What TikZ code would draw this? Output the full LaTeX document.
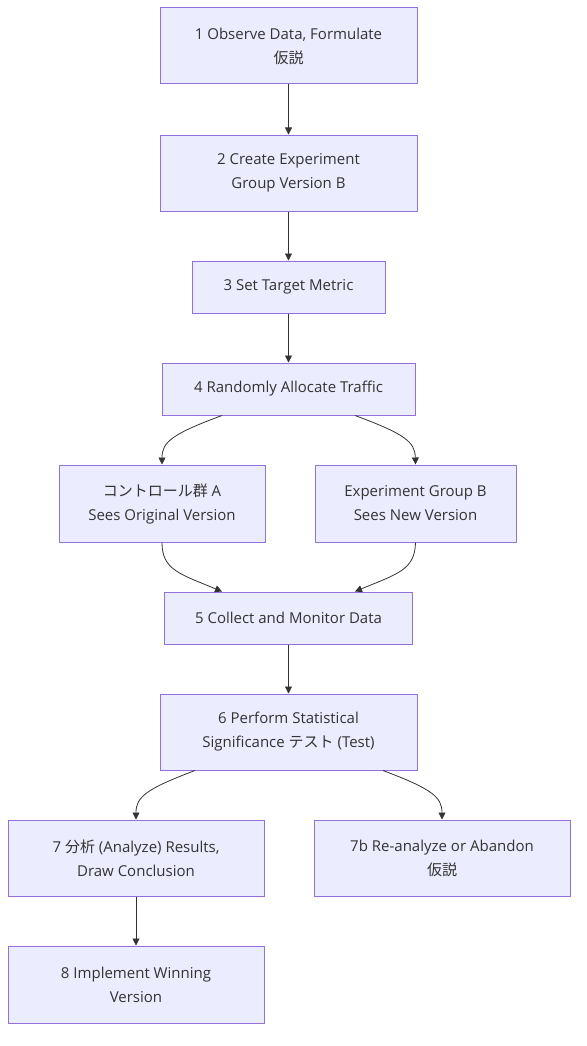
\documentclass[tikz,border=0pt]{standalone}
\usepackage{fontspec}
\setmainfont{Open Sans}
\newfontfamily\jp{Noto Sans CJK JP}
\usetikzlibrary{arrows.meta}
\definecolor{boxfill}{HTML}{ECECFF}
\definecolor{boxline}{HTML}{9370DB}
\definecolor{edge}{HTML}{333333}

\begin{document}
\begin{tikzpicture}[x=1pt,y=-1pt,
    box/.style={draw=boxline, fill=boxfill, line width=1pt, align=center,
      inner sep=0pt, font=\fontsize{15}{24}\selectfont, text=edge},
    tall/.style={box, minimum width=257pt, minimum height=76pt},
    flow/.style={-{Triangle[length=7pt,width=7pt]}, draw=edge, line width=0.8pt}]
        \useasboundingbox (0,0) rectangle (586,1046);

        % Schritte
        \node[tall] (obs) at (288.5,46) {1 Observe Data, Formulate\\{\jp 仮説}};
        \node[tall] (grp) at (288.5,173) {2 Create Experiment\\Group Version B};
        \node[box, minimum width=193pt, minimum height=52pt] (met) at (288.5,287) {3 Set Target Metric};
        \node[box, minimum width=253pt, minimum height=52pt] (alloc) at (288.5,389) {4 Randomly Allocate Traffic};
        \node[box, minimum width=206pt, minimum height=77pt] (ctrlA) at (162,503.5) {{\jp コントロール群} A\\Sees Original Version};
        \node[box, minimum width=201pt, minimum height=77pt] (expB) at (415.5,503.5) {Experiment Group B\\Sees New Version};
        \node[box, minimum width=248pt, minimum height=52pt] (coll) at (288.5,618) {5 Collect and Monitor Data};
        \node[tall] (stat) at (288.5,732) {6 Perform Statistical\\Significance {\jp テスト} (Test)};
        \node[box, minimum width=256pt, minimum height=76pt] (ana) at (136,858) {7 {\jp 分析} (Analyze) Results,\\Draw Conclusion};
        \node[box, minimum width=256pt, minimum height=76pt] (aband) at (442,858) {7b Re-analyze or Abandon\\{\jp 仮説}};
        \node[box, minimum width=256pt, minimum height=77pt] (impl) at (136,984.5) {8 Implement Winning\\Version};

        % Verbindungen
        \draw[flow] (obs) -- (grp);
        \draw[flow] (grp) -- (met);
        \draw[flow] (met) -- (alloc);
        \draw[flow] (alloc.south -| 222,0) .. controls (172,434) and (162,442) .. (ctrlA.north);
        \draw[flow] (alloc.south -| 355,0) .. controls (405,434) and (415,442) .. (expB.north);
        \draw[flow] (ctrlA.south) .. controls (162,570) and (180,574) .. (coll.north -| 222,0);
        \draw[flow] (expB.south) .. controls (415,570) and (397,574) .. (coll.north -| 355,0);
        \draw[flow] (coll) -- (stat);
        \draw[flow] (stat.south -| 195,0) .. controls (146,789) and (136,797) .. (ana.north);
        \draw[flow] (stat.south -| 383,0) .. controls (432,789) and (442,797) .. (aband.north);
        \draw[flow] (ana) -- (impl);
\end{tikzpicture}
\end{document}
